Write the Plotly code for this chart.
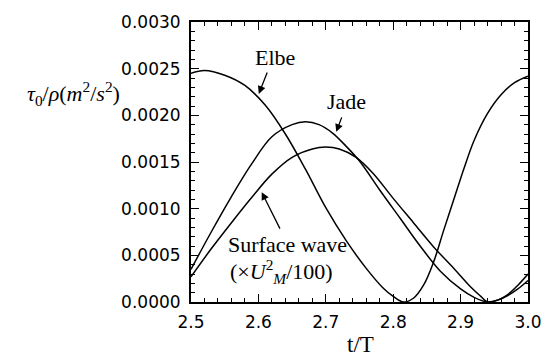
import plotly.graph_objects as go

# Data
elbe_t = [2.500, 2.520, 2.550, 2.580, 2.610, 2.640, 2.670, 2.700, 2.730, 2.760, 2.785, 2.800,
          2.815, 2.830, 2.845, 2.860, 2.875, 2.890, 2.905, 2.920, 2.940, 2.960, 2.980, 3.000]
elbe_v = [0.00245, 0.00248, 0.00243, 0.00232, 0.00211, 0.00180, 0.00142, 0.00101, 0.00066,
          0.00036, 0.00015, 0.00006, 0.00000, 0.00004, 0.00018, 0.00043, 0.00077, 0.00110,
          0.00143, 0.00173, 0.00202, 0.00222, 0.00235, 0.00242]

jade_t = [2.500, 2.530, 2.560, 2.590, 2.620, 2.650, 2.670, 2.690, 2.710, 2.730, 2.750, 2.780,
          2.810, 2.840, 2.870, 2.900, 2.920, 2.940, 2.955, 2.970, 2.985, 3.000]
jade_v = [0.00035, 0.00075, 0.00113, 0.00148, 0.00177, 0.00190, 0.00193, 0.00190, 0.00181,
          0.00167, 0.00151, 0.00120, 0.00090, 0.00060, 0.00033, 0.00014, 0.00005, 0.00000,
          0.00002, 0.00007, 0.00014, 0.00023]

surf_t = [2.500, 2.530, 2.560, 2.590, 2.620, 2.650, 2.680, 2.700, 2.720, 2.745, 2.770, 2.800,
          2.830, 2.860, 2.890, 2.915, 2.930, 2.940, 2.955, 2.970, 2.985, 3.000]
surf_v = [0.00027, 0.00057, 0.00085, 0.00112, 0.00137, 0.00155, 0.00164, 0.00166, 0.00164,
          0.00155, 0.00138, 0.00111, 0.00085, 0.00059, 0.00036, 0.00016, 0.00006, 0.00000,
          0.00002, 0.00008, 0.00018, 0.00030]

x_ticks = [2.5, 2.6, 2.7, 2.8, 2.9, 3.0]
x_tick_text = ["2.5", "2.6", "2.7", "2.8", "2.9", "3.0"]
y_ticks = [0.0, 0.0005, 0.0010, 0.0015, 0.0020, 0.0025, 0.0030]
y_tick_text = ["0.0000", "0.0005", "0.0010", "0.0015", "0.0020", "0.0025", "0.0030"]

fig = go.Figure()
for t, v in [(elbe_t, elbe_v), (jade_t, jade_v), (surf_t, surf_v)]:
    fig.add_trace(go.Scatter(x=t, y=v, mode="lines",
                             line=dict(color="black", width=1.5, shape="spline", smoothing=1.0),
                             showlegend=False, hoverinfo="skip"))

serif = "Liberation Serif"
sans = "DejaVu Sans"

axis_common = dict(showgrid=False, zeroline=False, showline=True, linecolor="black",
                   linewidth=2, mirror="allticks", ticks="inside", tickcolor="black",
                   tickwidth=1.2, ticklen=8,
                   tickfont=dict(family=sans, size=17, color="black"))

fig.update_xaxes(range=[2.5, 3.0], tickvals=x_ticks, ticktext=x_tick_text,
                 minor=dict(ticks="inside", ticklen=4, tickcolor="black", tickwidth=1, dtick=0.02),
                 ticklabelstandoff=4, **axis_common)
fig.update_yaxes(range=[0.0, 0.0030], tickvals=y_ticks, ticktext=y_tick_text,
                 minor=dict(ticks="inside", ticklen=4, tickcolor="black", tickwidth=1, dtick=0.0001),
                 ticklabelstandoff=5, **axis_common)

annotations = [
    dict(x=70, y=88,
         text="<i>τ</i><sub>0</sub>/<i>ρ</i>(<i>m</i><sup>2</sup>/<i>s</i><sup>2</sup>)",
         font=dict(family=serif, size=22, color="black")),
    dict(x=366, y=346, text="t/T", font=dict(family=serif, size=23, color="black")),
    dict(x=278, y=50, text="Elbe", font=dict(family=serif, size=22, color="black")),
    dict(x=352, y=96, text="Jade", font=dict(family=serif, size=22, color="black")),
    dict(x=291, y=243, text="Surface wave", font=dict(family=serif, size=22, color="black")),
    dict(x=284, y=271, text="(×<i>U</i><sup>2</sup><sub><i>M</i></sub>/100)",
         font=dict(family=serif, size=22, color="black")),
]

W, H = 554, 363
L, R, T, B = 191, 15, 14, 61
pw, ph = W - L - R, H - T - B

def px_to_paper(x, y):
    return (x - L) / pw, 1 - (y - T) / ph

ann_list = []
for a in annotations:
    px, py = px_to_paper(a["x"], a["y"])
    ann_list.append(dict(x=px, y=py, xref="paper", yref="paper", text=a["text"],
                         showarrow=False, font=a["font"], xanchor="center", yanchor="middle"))

# arrows (tail -> head), in pixel positions
arrows = [((270, 65), (261, 88)), ((347, 111), (341, 127)), ((283, 227), (264, 189))]
for (tx, ty), (hx, hy) in arrows:
    hxp, hyp = px_to_paper(hx, hy)
    ann_list.append(dict(x=hxp, y=hyp, xref="paper", yref="paper",
                         ax=tx - hx, ay=ty - hy, axref="pixel", ayref="pixel",
                         showarrow=True, arrowhead=2, arrowsize=1.2, arrowwidth=1.3,
                         arrowcolor="black", text=""))

fig.update_layout(width=W, height=H, margin=dict(l=L, r=R, t=T, b=B),
                  paper_bgcolor="white", plot_bgcolor="white",
                  annotations=ann_list)

fig.write_html("out.html")
